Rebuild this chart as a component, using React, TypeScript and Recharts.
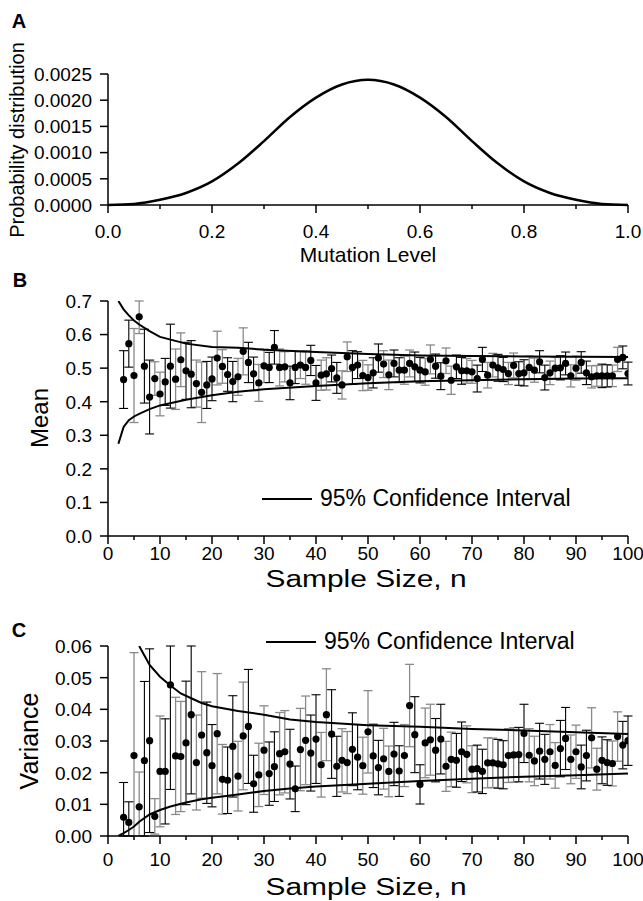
import React from "react";
import { LineChart, Line, ScatterChart, Scatter, XAxis, YAxis, ErrorBar } from "recharts";

const FONT = '"Liberation Sans", Arial, sans-serif';

// Panel A: probability distribution of the mutation level
const mutationLevel = [0, 0.05, 0.1, 0.15, 0.2, 0.25, 0.3, 0.35, 0.4, 0.45, 0.5, 0.55, 0.6, 0.65, 0.7, 0.75, 0.8, 0.85, 0.9, 0.95, 1];
const probability = [
  0, 0.00002, 0.0001, 0.00023, 0.00045, 0.00079, 0.00122, 0.00168, 0.00205, 0.0023, 0.00239,
  0.0023, 0.00205, 0.00168, 0.00122, 0.00079, 0.00045, 0.00023, 0.0001, 0.00002, 0,
];

// Panels B and C: sample statistics by sample size
const sampleSize = [
  3, 4, 5, 6, 7, 8, 9, 10, 11, 12, 13, 14, 15, 16, 17, 18, 19, 20, 21, 22,
  23, 24, 25, 26, 27, 28, 29, 30, 31, 32, 33, 34, 35, 36, 37, 38, 39, 40, 41, 42,
  43, 44, 45, 46, 47, 48, 49, 50, 51, 52, 53, 54, 55, 56, 57, 58, 59, 60, 61, 62,
  63, 64, 65, 66, 67, 68, 69, 70, 71, 72, 73, 74, 75, 76, 77, 78, 79, 80, 81, 82,
  83, 84, 85, 86, 87, 88, 89, 90, 91, 92, 93, 94, 95, 96, 97, 98, 99, 100,
];
const meanValue = [
  0.466, 0.573, 0.478, 0.653, 0.506, 0.414, 0.469, 0.423, 0.459, 0.506,
  0.467, 0.525, 0.492, 0.482, 0.454, 0.428, 0.45, 0.468, 0.53, 0.505,
  0.481, 0.46, 0.474, 0.55, 0.517, 0.483, 0.456, 0.507, 0.502, 0.562,
  0.502, 0.504, 0.456, 0.502, 0.509, 0.502, 0.523, 0.456, 0.479, 0.483,
  0.499, 0.471, 0.45, 0.534, 0.502, 0.509, 0.478, 0.472, 0.486, 0.53,
  0.512, 0.48, 0.514, 0.494, 0.494, 0.514, 0.504, 0.494, 0.489, 0.526,
  0.506, 0.476, 0.522, 0.464, 0.504, 0.492, 0.492, 0.489, 0.469, 0.526,
  0.479, 0.509, 0.501, 0.496, 0.484, 0.508, 0.484, 0.486, 0.502, 0.494,
  0.519, 0.472, 0.486, 0.5, 0.501, 0.514, 0.477, 0.5, 0.517, 0.486,
  0.474, 0.477, 0.477, 0.477, 0.477, 0.526, 0.532, 0.484,
];
const meanError = [
  0.086, 0.07, 0.14, 0.05, 0.11, 0.11, 0.05, 0.065, 0.07, 0.125,
  0.09, 0.08, 0.085, 0.1, 0.07, 0.09, 0.07, 0.065, 0.08, 0.05,
  0.05, 0.06, 0.055, 0.07, 0.06, 0.05, 0.055, 0.05, 0.045, 0.05,
  0.055, 0.045, 0.05, 0.048, 0.04, 0.05, 0.045, 0.052, 0.045, 0.048,
  0.04, 0.046, 0.042, 0.044, 0.05, 0.04, 0.045, 0.038, 0.045, 0.042,
  0.04, 0.044, 0.04, 0.037, 0.042, 0.04, 0.044, 0.038, 0.04, 0.043,
  0.036, 0.04, 0.038, 0.042, 0.035, 0.04, 0.037, 0.034, 0.04, 0.036,
  0.038, 0.035, 0.04, 0.036, 0.033, 0.037, 0.035, 0.039, 0.034, 0.036,
  0.033, 0.037, 0.035, 0.032, 0.036, 0.034, 0.033, 0.036, 0.032, 0.035,
  0.033, 0.031, 0.035, 0.033, 0.032, 0.036, 0.034, 0.034,
];
const varianceValue = [
  0.0059, 0.0043, 0.0254, 0.0092, 0.0238, 0.0301, 0.0062, 0.0204, 0.0204, 0.0477,
  0.0253, 0.0251, 0.0294, 0.0383, 0.0232, 0.0319, 0.0263, 0.0222, 0.0323, 0.0179,
  0.0176, 0.0283, 0.0189, 0.0316, 0.0346, 0.0165, 0.0193, 0.0271, 0.0197, 0.0219,
  0.026, 0.0266, 0.0227, 0.0149, 0.0273, 0.0302, 0.0262, 0.0306, 0.0225, 0.0383,
  0.0322, 0.022, 0.0239, 0.0232, 0.0274, 0.0249, 0.0222, 0.0329, 0.0253, 0.0216,
  0.0244, 0.0204, 0.0259, 0.0205, 0.0254, 0.0412, 0.032, 0.0163, 0.0294, 0.0304,
  0.0271, 0.0306, 0.022, 0.0242, 0.0239, 0.0266, 0.0258, 0.0211, 0.0213, 0.0204,
  0.0231, 0.0231, 0.0228, 0.0225, 0.0254, 0.0256, 0.0257, 0.0324, 0.0255, 0.0237,
  0.0268, 0.0242, 0.0266, 0.0223, 0.0276, 0.0308, 0.0242, 0.0266, 0.0218, 0.0254,
  0.031, 0.0211, 0.0239, 0.0232, 0.0229, 0.0314, 0.0287, 0.0301,
];
const varianceError = [
  0.011, 0.0065, 0.0325, 0.011, 0.025, 0.029, 0.0056, 0.0175, 0.0166, 0.033,
  0.0185, 0.0174, 0.0195, 0.025, 0.015, 0.02, 0.016, 0.013, 0.019, 0.011,
  0.0105, 0.016, 0.011, 0.017, 0.018, 0.009, 0.01, 0.014, 0.01, 0.011,
  0.013, 0.013, 0.011, 0.0072, 0.013, 0.014, 0.012, 0.014, 0.0102, 0.0145,
  0.014, 0.0095, 0.01, 0.0098, 0.0115, 0.0103, 0.009, 0.013, 0.01, 0.0086,
  0.0096, 0.008, 0.01, 0.008, 0.0098, 0.013, 0.012, 0.0062, 0.011, 0.0112,
  0.01, 0.011, 0.0079, 0.0086, 0.0085, 0.0094, 0.009, 0.0074, 0.0074, 0.007,
  0.0079, 0.0078, 0.0077, 0.0076, 0.0085, 0.0086, 0.0086, 0.0092, 0.0084, 0.0078,
  0.0088, 0.0079, 0.0086, 0.0072, 0.0089, 0.0098, 0.0077, 0.0084, 0.0069, 0.008,
  0.0095, 0.0066, 0.0074, 0.0072, 0.0071, 0.0078, 0.0075, 0.0078,
];

// 95% confidence interval curves
const meanCiN = [2, 3, 4, 5, 6, 8, 10, 15, 20, 25, 30, 40, 50, 60, 70, 80, 90, 100];
const meanCiUpper = [0.7, 0.675, 0.657, 0.642, 0.63, 0.61, 0.593, 0.573, 0.563, 0.561, 0.555, 0.548, 0.542, 0.538, 0.536, 0.535, 0.534, 0.533];
const meanCiLower = [0.275, 0.325, 0.345, 0.356, 0.364, 0.378, 0.389, 0.406, 0.419, 0.43, 0.437, 0.447, 0.455, 0.461, 0.464, 0.467, 0.469, 0.47];
const varCiUpperN = [6, 7, 8, 10, 12, 14, 16, 18, 20, 25, 30, 35, 40, 50, 60, 70, 80, 90, 100];
const varCiUpper = [0.06, 0.057, 0.054, 0.0503, 0.0475, 0.045, 0.0435, 0.042, 0.041, 0.0395, 0.0383, 0.0368, 0.036, 0.035, 0.0345, 0.0338, 0.0333, 0.0328, 0.0322];
const varCiLowerN = [2, 3, 4, 5, 6, 8, 10, 12, 15, 18, 20, 25, 30, 35, 40, 50, 60, 70, 80, 90, 100];
const varCiLower = [0, 0.0009, 0.0019, 0.003, 0.0045, 0.0068, 0.0082, 0.0093, 0.0106, 0.0116, 0.0121, 0.0131, 0.0142, 0.015, 0.0156, 0.0165, 0.0174, 0.0181, 0.0187, 0.0192, 0.0197];

// axis ticks
const levelTicks = [0, 0.1, 0.2, 0.3, 0.4, 0.5, 0.6, 0.7, 0.8, 0.9, 1];
const levelLabels = [0, 0.2, 0.4, 0.6, 0.8, 1];
const probTicks = [0, 0.00025, 0.0005, 0.00075, 0.001, 0.00125, 0.0015, 0.00175, 0.002, 0.00225, 0.0025];
const probLabels = [0, 0.0005, 0.001, 0.0015, 0.002, 0.0025];
const sizeTicks = [0, 5, 10, 15, 20, 25, 30, 35, 40, 45, 50, 55, 60, 65, 70, 75, 80, 85, 90, 95, 100];
const sizeLabels = [0, 10, 20, 30, 40, 50, 60, 70, 80, 90, 100];
const meanTicks = [0, 0.05, 0.1, 0.15, 0.2, 0.25, 0.3, 0.35, 0.4, 0.45, 0.5, 0.55, 0.6, 0.65, 0.7];
const meanLabels = [0, 0.1, 0.2, 0.3, 0.4, 0.5, 0.6, 0.7];
const varTicks = [0, 0.005, 0.01, 0.015, 0.02, 0.025, 0.03, 0.035, 0.04, 0.045, 0.05, 0.055, 0.06];
const varLabels = [0, 0.01, 0.02, 0.03, 0.04, 0.05, 0.06];

const TICK_FS = 19;

function leftTick(labels: number[], digits: number, size: number, margin: number) {
  return (props: any) => {
    const { x, y, payload } = props;
    const v = payload.value;
    const major = labels.some((m) => Math.abs(m - v) < 1e-9);
    const ax = x + size + margin;
    return (
      <g>
        <line x1={ax - (major ? 8 : 4)} x2={ax} y1={y} y2={y} stroke="#000" strokeWidth={1.5} />
        {major && (
          <text x={x} y={y} dy="0.36em" textAnchor="end" fontFamily={FONT} fontSize={TICK_FS} fill="#000">
            {v.toFixed(digits)}
          </text>
        )}
      </g>
    );
  };
}

function bottomTick(labels: number[], digits: number, size: number, margin: number) {
  return (props: any) => {
    const { x, y, payload } = props;
    const v = payload.value;
    const major = labels.some((m) => Math.abs(m - v) < 1e-9);
    const ay = y - size - margin;
    return (
      <g>
        <line x1={x} x2={x} y1={ay} y2={ay + (major ? 8 : 4)} stroke="#000" strokeWidth={1.5} />
        {major && (
          <text x={x} y={y} dy="0.71em" textAnchor="middle" fontFamily={FONT} fontSize={TICK_FS} fill="#000">
            {v.toFixed(digits)}
          </text>
        )}
      </g>
    );
  };
}

const dot = (p: any) => <circle cx={p.cx} cy={p.cy} r={3.6} fill="#000" />;
const noShape = () => <g />;

// error bars are cut off at the edges of the plot
const pts = (ys: number[], errs: number[], lo: number, hi: number) =>
  sampleSize.map((n, i) => ({
    x: n,
    y: ys[i],
    err: [Math.min(errs[i], ys[i] - lo), Math.min(errs[i], hi - ys[i])],
  }));
const curve = (xs: number[], ys: number[]) => xs.map((x, i) => ({ x, y: ys[i] }));
// error bars come in alternating pairs of grey and black
const isGrey = (n: number) => Math.floor((n - 1) / 2) % 2 === 0;

const axisLine = { stroke: "#000", strokeWidth: 1.5 };

function Label({
  x,
  y,
  text,
  size,
  rotate,
  bold,
  stretch = 1,
}: {
  x: number;
  y: number;
  text: string;
  size: number;
  rotate?: boolean;
  bold?: boolean;
  stretch?: number;
}) {
  return (
    <div
      style={{
        position: "absolute",
        left: x,
        top: y,
        transform: `translate(-50%, -50%)${rotate ? " rotate(-90deg)" : ""} scaleX(${stretch})`,
        fontFamily: FONT,
        fontSize: size,
        fontWeight: bold ? 700 : 400,
        whiteSpace: "nowrap",
        lineHeight: 1,
        color: "#000",
      }}
    >
      {text}
    </div>
  );
}

function LegendItem({ x, y }: { x: number; y: number }) {
  return (
    <div style={{ position: "absolute", left: x, top: y, display: "flex", alignItems: "center", fontFamily: FONT, fontSize: 23, lineHeight: 1 }}>
      <div style={{ width: 50, height: 2, background: "#000", marginRight: 8 }} />
      <span>95% Confidence Interval</span>
    </div>
  );
}

function StatPanel({
  top,
  height,
  marginTop,
  axisHeight,
  labelGap,
  ys,
  errs,
  domain,
  ticks,
  labels,
  digits,
  upper,
  lower,
}: {
  top: number;
  height: number;
  marginTop: number;
  axisHeight: number;
  labelGap: number;
  ys: number[];
  errs: number[];
  domain: [number, number];
  ticks: number[];
  labels: number[];
  digits: number;
  upper: { x: number; y: number }[];
  lower: { x: number; y: number }[];
}) {
  const data = pts(ys, errs, domain[0], domain[1]);
  return (
    <div style={{ position: "absolute", left: 0, top }}>
      <ScatterChart width={643} height={height} margin={{ top: marginTop, right: 15, bottom: 0, left: 0 }}>
        <XAxis
          type="number"
          dataKey="x"
          domain={[0, 100]}
          ticks={sizeTicks}
          allowDataOverflow
          height={axisHeight}
          tickSize={8}
          tickMargin={labelGap}
          tickLine={false}
          axisLine={axisLine}
          tick={bottomTick(sizeLabels, 0, 8, labelGap)}
        />
        <YAxis
          type="number"
          dataKey="y"
          domain={domain}
          ticks={ticks}
          allowDataOverflow
          width={108}
          tickSize={8}
          tickMargin={8}
          tickLine={false}
          axisLine={axisLine}
          tick={leftTick(labels, digits, 8, 8)}
        />
        <Scatter data={upper} line={{ stroke: "#000", strokeWidth: 2 }} shape={noShape} isAnimationActive={false} />
        <Scatter data={lower} line={{ stroke: "#000", strokeWidth: 2 }} shape={noShape} isAnimationActive={false} />
        <Scatter data={data.filter((d) => isGrey(d.x))} shape={noShape} isAnimationActive={false}>
          <ErrorBar dataKey="err" direction="y" width={4.5} stroke="#8a8a8a" strokeWidth={1.3} />
        </Scatter>
        <Scatter data={data.filter((d) => !isGrey(d.x))} shape={noShape} isAnimationActive={false}>
          <ErrorBar dataKey="err" direction="y" width={4.5} stroke="#000" strokeWidth={1.1} />
        </Scatter>
        <Scatter data={data} shape={dot} isAnimationActive={false} />
      </ScatterChart>
    </div>
  );
}

export default function App() {
  const distData = curve(mutationLevel, probability);
  return (
    <div style={{ position: "absolute", left: 0, top: 0, width: 643, height: 901, background: "#fff", overflow: "hidden" }}>
      {/* A */}
      <div style={{ position: "absolute", left: 0, top: 0 }}>
        <LineChart width={643} height={270} data={distData} margin={{ top: 74, right: 15, bottom: 0, left: 0 }}>
          <XAxis
            type="number"
            dataKey="x"
            domain={[0, 1]}
            ticks={levelTicks}
            height={65}
            tickSize={8}
            tickMargin={12}
            tickLine={false}
            axisLine={axisLine}
            tick={bottomTick(levelLabels, 1, 8, 12)}
          />
          <YAxis
            type="number"
            domain={[0, 0.0025]}
            ticks={probTicks}
            width={108}
            tickSize={8}
            tickMargin={8}
            tickLine={false}
            axisLine={axisLine}
            tick={leftTick(probLabels, 4, 8, 8)}
          />
          <Line type="monotone" dataKey="y" stroke="#000" strokeWidth={2.5} dot={false} isAnimationActive={false} />
        </LineChart>
      </div>
      <Label x={19} y={21} text="A" size={20} bold />
      <Label x={17} y={140} text="Probability distribution" size={20} rotate />
      <Label x={368} y={254} text="Mutation Level" size={21} />

      {/* B */}
      <StatPanel
        top={270}
        height={330}
        marginTop={31}
        axisHeight={64}
        labelGap={3}
        ys={meanValue}
        errs={meanError}
        domain={[0, 0.7]}
        ticks={meanTicks}
        labels={meanLabels}
        digits={1}
        upper={curve(meanCiN, meanCiUpper)}
        lower={curve(meanCiN, meanCiLower)}
      />
      <Label x={20} y={280} text="B" size={20} bold />
      <Label x={40} y={418} text="Mean" size={24} rotate />
      <Label x={366} y={579} text="Sample Size, n" size={23} stretch={1.3} />
      <LegendItem x={262} y={487} />

      {/* C */}
      <StatPanel
        top={600}
        height={301}
        marginTop={46}
        axisHeight={65}
        labelGap={9}
        ys={varianceValue}
        errs={varianceError}
        domain={[0, 0.06]}
        ticks={varTicks}
        labels={varLabels}
        digits={2}
        upper={curve(varCiUpperN, varCiUpper)}
        lower={curve(varCiLowerN, varCiLower)}
      />
      <Label x={19} y={630} text="C" size={20} bold />
      <Label x={29} y={741} text="Variance" size={25} rotate />
      <Label x={366} y={887} text="Sample Size, n" size={23} stretch={1.3} />
      <LegendItem x={266} y={630} />
    </div>
  );
}
